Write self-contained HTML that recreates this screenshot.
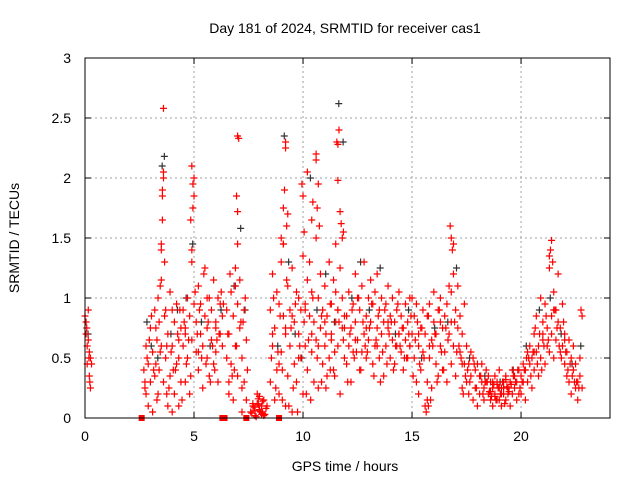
<!DOCTYPE html>
<html><head><meta charset="utf-8"><style>
body{margin:0;background:#fff}
svg{display:block;font-family:"Liberation Sans",sans-serif}
</style></head><body>
<svg id="chart" width="640" height="480">
<text x="345" y="33" font-size="14" text-anchor="middle">Day 181 of 2024, SRMTID for receiver cas1</text>
<text x="345" y="471" font-size="14" text-anchor="middle">GPS time / hours</text>
<text transform="translate(19,238) rotate(-90)" font-size="14" text-anchor="middle">SRMTID / TECUs</text>
<g id="grid"></g><g id="ticks"></g><g id="marks"></g>
<rect x="85" y="58" width="525" height="360" fill="none" stroke="#000" stroke-width="1"/>
</svg>
<script>
const xTicks=[0,5,10,15,20];
const yTicks=[0,0.5,1,1.5,2,2.5,3];
const yTickLabels=["0","0.5","1","1.5","2","2.5","3"];
const blackHours=[0.1,2.8,3.0,3.3,3.5,3.6,3.9,4.2,4.6,4.9,5.3,5.7,6.2,6.8,7.1,7.3,8.8,9.1,9.3,9.6,9.9,10.3,10.6,11.0,11.4,11.6,11.8,12.2,12.6,13.0,13.5,14.2,14.8,15.4,16.0,16.6,17.0,17.6,18.3,19.0,19.6,20.2,20.8,21.3,21.8,22.3,22.7];
const blackValues=[0.7,0.8,0.6,0.5,2.1,2.18,0.7,0.9,1.0,1.45,0.8,0.6,0.9,1.1,1.58,0.9,0.6,2.35,1.3,0.7,0.5,2.0,0.9,1.2,0.8,2.62,2.3,1.0,1.3,0.9,1.25,0.7,0.9,0.5,0.75,0.8,1.25,0.5,0.35,0.3,0.4,0.6,0.9,1.0,0.7,0.45,0.6];
const redHours=[0.0,0.05,0.1,0.1,0.15,0.2,0.2,0.25,0.3,0.05,0.15,0.25,
2.7,2.8,2.8,2.9,2.9,3.0,3.0,3.1,3.1,3.2,3.2,3.3,3.3,3.35,3.4,3.4,3.45,3.5,3.5,3.55,3.6,3.6,3.7,3.7,3.8,3.8,3.9,3.9,4.0,4.0,4.1,4.1,4.2,4.2,4.3,4.3,4.4,4.4,3.5,3.55,3.6,3.55,3.5,3.6,3.65,2.75,2.85,3.05,3.25,3.75,3.95,4.15,4.35,
4.5,4.5,4.6,4.6,4.7,4.7,4.8,4.8,4.9,4.9,4.95,5.0,5.0,5.1,5.1,5.2,5.2,5.3,5.3,5.4,5.4,5.5,5.5,5.6,5.6,5.7,5.7,5.8,5.8,5.9,5.9,6.0,6.0,6.1,6.1,6.2,6.2,6.3,6.3,4.9,4.95,5.0,4.85,4.9,5.05,5.45,5.55,5.75,6.05,6.25,
6.5,6.5,6.6,6.6,6.7,6.7,6.8,6.8,6.9,6.9,7.0,7.0,7.1,7.1,7.2,7.2,7.3,7.3,7.4,7.4,7.0,7.05,6.95,7.0,7.0,6.65,6.85,7.15,7.35,
7.6,7.7,7.8,7.9,8.0,8.1,8.2,8.3,7.65,7.75,7.85,7.95,8.05,8.15,8.25,7.9,8.0,8.1,
8.5,8.5,8.6,8.6,8.7,8.7,8.8,8.8,8.9,8.9,9.0,9.0,9.1,9.1,9.2,9.2,9.3,9.3,9.4,9.4,9.5,9.5,9.6,9.6,9.7,9.7,9.8,9.8,9.9,9.9,10.0,10.0,10.1,10.1,10.2,10.2,10.3,10.3,10.4,10.4,10.5,10.5,10.6,10.6,10.7,10.7,10.8,10.8,10.9,10.9,11.0,11.0,11.1,11.1,11.2,11.2,11.3,11.3,11.4,11.4,11.5,11.5,11.6,11.6,11.7,11.7,11.8,11.8,11.9,11.9,
9.1,9.15,9.2,9.2,9.25,9.3,9.0,9.1,9.95,10.0,10.05,10.2,10.4,10.45,10.6,10.6,10.65,10.7,10.75,11.55,11.6,11.65,11.6,11.7,11.75,11.5,11.8,11.85,9.05,9.35,9.55,9.75,10.15,10.35,10.85,11.05,11.25,11.45,
12.0,12.0,12.1,12.1,12.2,12.2,12.3,12.3,12.4,12.4,12.5,12.5,12.6,12.6,12.7,12.7,12.8,12.8,12.9,12.9,13.0,13.0,13.1,13.1,13.2,13.2,13.3,13.3,13.4,13.4,13.5,13.5,13.6,13.6,13.7,13.7,13.8,13.8,13.9,13.9,14.0,14.0,14.1,14.1,14.2,14.2,14.3,14.3,14.4,14.4,14.5,14.5,14.6,14.6,14.7,14.7,14.8,14.8,14.9,14.9,12.05,12.35,12.65,12.95,13.25,13.55,13.85,14.15,14.45,14.75,
15.0,15.0,15.1,15.1,15.2,15.2,15.3,15.3,15.4,15.4,15.5,15.5,15.6,15.6,15.7,15.7,15.8,15.8,15.9,15.9,16.0,16.0,16.1,16.1,16.2,16.2,16.3,16.3,16.4,16.4,16.5,16.5,16.6,16.6,16.7,16.7,16.8,16.8,16.9,16.9,17.0,17.0,17.1,17.1,17.2,17.2,17.3,17.3,17.4,17.4,16.75,16.8,16.85,16.9,15.65,15.7,15.75,15.05,15.35,15.85,16.15,16.45,17.05,17.35,
17.5,17.5,17.6,17.6,17.7,17.7,17.8,17.8,17.9,17.9,18.0,18.0,18.1,18.1,18.2,18.2,18.3,18.3,18.4,18.4,18.5,18.5,18.6,18.6,18.7,18.7,18.8,18.8,18.9,18.9,19.0,19.0,19.1,19.1,19.2,19.2,19.3,19.3,19.4,19.4,19.5,19.5,19.6,19.6,19.7,19.7,19.8,19.8,19.9,19.9,18.45,18.55,18.65,18.75,18.85,18.95,19.05,19.15,19.25,19.35,
20.0,20.0,20.1,20.1,20.2,20.2,20.3,20.3,20.4,20.4,20.5,20.5,20.6,20.6,20.7,20.7,20.8,20.8,20.9,20.9,21.0,21.0,21.1,21.1,21.2,21.2,21.3,21.3,21.4,21.4,21.5,21.5,21.6,21.6,21.7,21.7,21.8,21.8,21.9,21.9,22.0,22.0,22.1,22.1,22.2,22.2,22.3,22.3,22.4,22.4,22.5,22.5,22.6,22.6,22.7,22.7,22.8,22.8,21.35,21.4,21.45,21.3,20.05,20.35,20.65,20.95,21.25,21.55,21.85,22.15,22.45,22.75];
const redValues=[0.85,0.7,0.6,0.45,0.9,0.35,0.55,0.25,0.45,0.8,0.65,0.5,
0.4,0.2,0.6,0.1,0.45,0.3,0.75,0.05,0.55,0.35,0.9,0.15,0.65,1.0,0.4,0.8,1.1,1.4,0.6,1.85,2.05,0.3,0.9,0.5,0.1,0.7,0.35,1.05,0.05,0.6,0.2,0.8,0.45,0.95,0.1,0.65,0.3,0.75,1.45,1.65,2.0,1.9,1.15,2.58,1.3,0.25,0.5,0.85,0.45,0.2,0.55,0.4,0.9,
0.6,0.9,0.3,0.75,1.0,0.5,0.85,0.2,1.3,0.65,1.75,1.85,0.95,0.55,0.8,1.1,0.4,0.7,0.95,0.25,0.6,0.85,1.25,0.5,0.75,1.0,0.35,0.65,0.9,1.15,0.45,0.8,0.55,1.0,0.3,0.7,0.95,0.6,0.85,2.1,1.95,2.0,1.65,1.4,1.05,1.2,0.45,0.3,0.65,1.05,
0.5,0.9,0.2,0.7,1.05,0.45,0.85,0.15,1.25,0.6,0.35,0.95,0.75,1.15,0.05,0.5,0.9,0.3,0.65,0.15,2.35,2.33,1.85,1.72,1.45,1.2,0.4,0.8,1.0,
0.05,0.1,0.02,0.12,0.06,0.03,0.15,0.08,0.04,0.09,0.01,0.11,0.05,0.14,0.03,0.2,0.07,0.1,
0.3,0.9,0.6,1.2,0.15,0.75,1.05,0.4,0.95,0.2,1.3,0.55,1.45,0.85,0.1,0.7,1.1,0.35,0.9,0.6,1.25,0.05,0.8,0.45,1.05,0.3,0.7,1.0,0.5,0.9,1.35,0.2,0.95,0.6,1.15,0.4,0.85,1.3,0.55,1.05,0.3,0.8,1.5,0.65,1.0,0.25,0.75,1.2,0.45,0.9,0.6,1.1,0.35,0.85,1.3,0.5,0.95,0.7,1.15,0.4,0.8,1.05,0.6,0.9,1.25,0.2,0.75,1.0,0.5,0.85,
1.75,1.9,2.3,2.25,1.6,1.7,1.5,1.45,1.95,1.85,1.55,2.05,1.65,1.8,2.2,2.15,1.75,1.95,1.6,2.3,2.28,2.4,1.98,1.72,1.62,1.45,1.5,1.55,0.15,0.1,0.25,0.05,0.2,0.15,0.3,0.25,0.4,0.35,
0.45,0.85,0.6,1.05,0.3,0.75,0.95,0.55,0.8,1.2,0.65,1.0,0.4,0.9,1.1,0.55,0.7,1.3,0.85,0.5,1.0,0.65,0.8,1.15,0.45,0.95,0.6,1.05,0.75,1.2,0.5,0.9,0.7,1.0,0.35,0.8,0.95,0.6,1.1,0.75,0.5,0.85,0.65,1.0,0.45,0.8,0.9,0.6,1.05,0.7,0.55,0.85,0.4,0.75,0.95,0.65,0.5,0.8,1.0,0.6,0.3,0.5,0.4,0.55,0.35,0.3,0.45,0.4,0.6,0.5,
0.7,1.0,0.5,0.85,0.3,0.95,0.6,0.2,0.75,0.4,0.9,0.55,0.1,0.7,0.3,0.85,0.5,0.95,0.65,0.25,0.8,1.05,0.45,0.7,0.9,0.35,0.6,1.0,0.75,0.4,0.85,0.55,0.95,0.3,0.7,1.1,0.45,0.8,1.2,0.6,0.9,0.35,0.75,1.1,0.55,0.85,0.25,0.7,0.45,0.95,1.6,1.5,1.4,1.45,0.05,0.15,0.1,0.35,0.45,0.15,0.3,0.4,0.55,0.2,
0.6,0.3,0.45,0.2,0.55,0.35,0.5,0.15,0.4,0.25,0.45,0.1,0.35,0.2,0.3,0.45,0.25,0.15,0.4,0.3,0.2,0.35,0.15,0.3,0.25,0.1,0.2,0.35,0.3,0.15,0.25,0.4,0.2,0.1,0.3,0.25,0.15,0.35,0.25,0.2,0.1,0.3,0.2,0.4,0.25,0.35,0.3,0.15,0.4,0.2,0.3,0.22,0.18,0.28,0.15,0.25,0.2,0.3,0.12,0.26,
0.2,0.35,0.3,0.45,0.15,0.4,0.55,0.3,0.45,0.6,0.25,0.5,0.7,0.4,0.55,0.85,0.35,0.6,1.0,0.5,0.65,0.8,0.45,0.95,0.6,0.75,1.25,0.55,0.85,0.7,1.05,0.5,0.9,0.65,0.8,1.2,0.55,0.75,0.6,0.95,0.45,0.7,0.35,0.55,0.65,0.3,0.5,0.2,0.4,0.6,0.25,0.45,0.3,0.15,0.35,0.5,0.25,0.85,1.4,1.48,1.3,1.35,0.3,0.5,0.75,0.4,0.65,0.9,0.5,0.4,0.3,0.9];
const redHours2=[0.08,0.18,0.22,2.75,2.95,3.15,3.25,3.45,3.65,3.85,4.05,4.25,4.45,3.35,3.75,4.0,4.3,
4.55,4.65,4.75,4.85,5.15,5.25,5.35,5.65,5.85,5.95,6.15,6.35,4.6,5.2,5.6,6.0,
6.55,6.75,6.95,7.25,7.45,6.6,6.9,7.2,7.7,7.8,8.0,8.2,8.35,7.95,8.15,
8.55,8.65,8.75,8.85,8.95,9.05,9.25,9.45,9.65,9.85,10.05,10.25,10.45,10.65,10.85,11.05,11.25,11.45,11.65,11.85,8.6,8.9,9.2,9.5,9.8,10.1,10.4,10.7,11.0,11.3,11.6,11.9,
12.15,12.25,12.45,12.55,12.75,12.85,13.05,13.15,13.35,13.45,13.65,13.75,13.95,14.05,14.25,14.35,14.55,14.65,14.85,14.95,12.4,12.9,13.4,13.9,14.4,14.9,
15.15,15.25,15.45,15.55,15.75,15.95,16.05,16.25,16.35,16.55,16.65,16.95,17.15,17.25,17.45,15.3,15.8,16.3,16.8,17.3,
17.55,17.65,17.85,17.95,18.15,18.25,18.35,18.6,18.7,18.8,18.9,19.0,19.1,19.2,19.3,19.45,19.55,19.65,19.75,19.85,19.95,
20.15,20.25,20.45,20.55,20.75,20.85,21.05,21.15,21.65,21.75,21.95,22.05,22.25,22.35,22.55,22.65,20.6,21.0,21.5,22.0];
const redValues2=[0.75,0.5,0.3,0.3,0.65,0.4,0.75,0.55,0.85,0.25,0.4,0.7,0.15,0.2,0.6,0.9,0.5,
0.8,0.45,0.65,0.35,0.7,0.9,0.5,0.8,0.6,0.4,0.7,0.95,0.7,0.55,1.0,0.75,
0.7,0.35,0.6,0.8,0.4,0.3,1.1,0.25,0.12,0.06,0.18,0.02,0.1,0.16,0.04,
0.5,1.0,0.25,0.55,0.85,0.4,1.15,0.75,0.95,0.6,0.8,0.65,1.0,0.5,0.85,0.7,0.95,0.55,0.8,0.65,0.7,0.45,0.75,0.85,0.5,0.9,0.7,0.6,0.8,0.65,0.9,0.75,
0.7,0.9,0.55,1.0,0.8,0.6,0.75,0.95,0.65,0.85,0.55,0.9,0.7,0.8,0.6,0.95,0.75,0.5,0.7,0.85,0.65,0.75,0.6,0.8,0.7,0.6,
0.65,0.8,0.75,0.5,0.85,0.6,0.7,0.9,0.55,0.75,0.65,0.8,0.6,0.5,0.35,0.7,0.6,0.8,1.05,0.45,
0.4,0.3,0.45,0.25,0.35,0.2,0.3,0.22,0.3,0.18,0.28,0.15,0.25,0.2,0.32,0.22,0.28,0.35,0.3,0.4,0.25,
0.4,0.5,0.35,0.55,0.45,0.7,0.6,0.85,0.75,0.6,0.8,0.55,0.45,0.35,0.3,0.25,0.55,0.7,0.9,0.65];
const squareHours=[2.6,6.3,6.4,7.4,8.9];
const squareValues=[0,0,0,0,0];

const svg=document.getElementById('chart');
const NS='http://www.w3.org/2000/svg';
const X0=85,X1=610,Y0=418,Y1=58,XMAX=24.08,YMAX=3;
const xs=v=>X0+v/XMAX*(X1-X0);
const ys=v=>Y0-v/YMAX*(Y0-Y1);
function mk(tag,attrs,parent){const e=document.createElementNS(NS,tag);for(const k in attrs)e.setAttribute(k,attrs[k]);parent.appendChild(e);return e;}
const grid=document.getElementById('grid'),ticks=document.getElementById('ticks'),marks=document.getElementById('marks');
xTicks.forEach(t=>{
  const x=xs(t);
  if(t>0){const g=mk('line',{x1:x,x2:x,y1:Y0,y2:Y1,stroke:'#a0a0a0','stroke-dasharray':'2,3'},grid);
  
  }
  const tk=mk('path',{d:`M${x},${Y0}v-6M${x},${Y1}v6`,stroke:'#000'},ticks);
  
  
  const lb=mk('text',{x:x,y:Y0+23,'font-size':14,'text-anchor':'middle'},ticks);
  lb.textContent=String(t);
  
  
});
yTicks.forEach((t,i)=>{
  const y=ys(t);
  if(t>0&&t<YMAX){const g=mk('line',{x1:X0,x2:X1,y1:y,y2:y,stroke:'#a0a0a0','stroke-dasharray':'2,3'},grid);
  
  }
  const tk=mk('path',{d:`M${X0},${y}h6M${X1},${y}h-6`,stroke:'#000'},ticks);
  
  
  const lb=mk('text',{x:X0-14,y:y+5,'font-size':14,'text-anchor':'end'},ticks);
  lb.textContent=yTickLabels[i];
  
  
});
function plus(h,v,color,name){
  const x=xs(h),y=ys(v);
  const p=mk('path',{d:`M${x-3.5},${y}h7M${x},${y-3.5}v7`,stroke:color,'stroke-width':1.2},marks);
  
  
}
blackHours.forEach((h,i)=>plus(h+0.04,blackValues[i],'#333','black-point'));
redHours.forEach((h,i)=>plus(h,redValues[i],'#ff0000','red-point'));
redHours2.forEach((h,i)=>plus(h,redValues2[i],'#ff0000','red-point'));
squareHours.forEach((h,i)=>{
  const r=mk('rect',{x:xs(h)-3,y:ys(squareValues[i])-3,width:6,height:6,fill:'#ff0000'},marks);
  
  
});
</script>
</body></html>
